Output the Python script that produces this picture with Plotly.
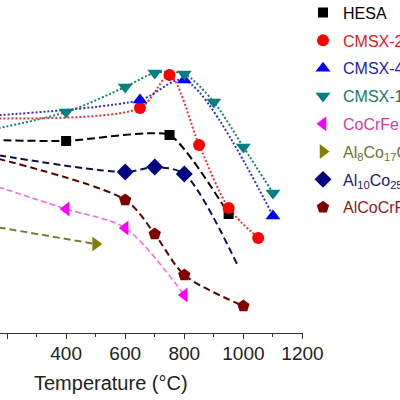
import plotly.graph_objects as go

# Temperature (°C) and strength values (MPa)
HESA_T = [25, 400, 750, 950]
HESA_S = [775, 768, 792, 476]

CMSX2_T = [25, 650, 750, 850, 950, 1050]
CMSX2_S = [860, 900, 1032, 752, 500, 380]

CMSX4_T = [25, 650, 800, 1100]
CMSX4_S = [860, 932, 1012, 468]

CMSX10_T = [25, 400, 600, 700, 800, 900, 1000, 1100]
CMSX10_S = [784, 884, 984, 1040, 1036, 924, 744, 560]

CANTOR_T = [25, 400, 600, 800]
CANTOR_S = [640, 496, 420, 152]

AL8_T = [25, 500]
AL8_S = [452, 356]

AL10_T = [25, 600, 700, 800, 980]
AL10_S = [740, 644, 664, 636, 272]
AL10_MARKED = [True, True, True, True, False]

ALCOCR_T = [25, 600, 700, 800, 1000]
ALCOCR_S = [740, 532, 396, 232, 108]

X_TICKS = [200, 400, 600, 800, 1000, 1200]

series = [
    ("HESA", HESA_T, HESA_S, None, "#000000", "#000000", "square", 10, "8px,4px", 2, 0.5),
    ("CMSX-2", CMSX2_T, CMSX2_S, None, "#ff0000", "#f03030", "circle", 12, "2px,2px", 2, 0.8),
    ("CMSX-4", CMSX4_T, CMSX4_S, None, "#0000ff", "#3030d0", "triangle-up", 13, "2px,2px", 2, 0.8),
    ("CMSX-10", CMSX10_T, CMSX10_S, None, "#008080", "#108070", "triangle-down", 13, "2px,2px", 2, 0.8),
    ("CoCrFeMnNi", CANTOR_T, CANTOR_S, None, "#ff00ff", "#ee70d8", "triangle-left", 13, "6px,3px", 1.6, 0.8),
    ("Al<sub>8</sub>Co<sub>17</sub>Cr<sub>17</sub>Cu<sub>8</sub>Fe<sub>17</sub>Ni<sub>33</sub>",
     AL8_T, AL8_S, None, "#808000", "#7a7a3a", "triangle-right", 13, "7px,4px", 2, 0.8),
    ("Al<sub>10</sub>Co<sub>25</sub>Cr<sub>8</sub>Fe<sub>15</sub>Ni<sub>36</sub>Ti<sub>6</sub>",
     AL10_T, AL10_S, AL10_MARKED, "#000080", "#10104a", "diamond", 13, "7px,4px", 2, 0.8),
    ("AlCoCrFeNiTi<sub>0.5</sub>", ALCOCR_T, ALCOCR_S, None, "#800000", "#5a0000", "pentagon", 13, "7px,4px", 2, 0.8),
]

text_colors = ["#000000", "#e02020", "#2020c0", "#1a7a6a", "#d63aa8", "#6e6e38", "#1a1a70", "#8c1a1a"]

fig = go.Figure()

# lines first
for name, t, s, marked, mcol, lcol, sym, msz, dash, lw, smooth in series:
    fig.add_trace(go.Scatter(
        x=t, y=s, mode="lines", showlegend=False, hoverinfo="skip",
        line=dict(color=lcol, width=lw, dash=dash, shape="spline", smoothing=smooth),
    ))

# markers
for i, (name, t, s, marked, mcol, lcol, sym, msz, dash, lw, smooth) in enumerate(series):
    if marked is None:
        mt, ms = t, s
    else:
        mt = [a for a, m in zip(t, marked) if m]
        ms = [b for b, m in zip(s, marked) if m]
    fig.add_trace(go.Scatter(
        x=mt, y=ms, mode="markers",
        name='<span style="color:%s">%s</span>' % (text_colors[i], name),
        legendgroup="g%d" % i,
        marker=dict(symbol=sym, size=msz, color=mcol, line=dict(width=0)),
    ))

fig.add_annotation(
    text="Temperature (°C)", xref="paper", yref="paper",
    x=111 / 303, y=-50 / 333, xanchor="center", yanchor="middle",
    showarrow=False, font=dict(size=20, color="#222222", family="Arial"),
)

fig.update_layout(
    width=400, height=400,
    margin=dict(l=0, r=97, t=0, b=67, autoexpand=False),
    paper_bgcolor="white", plot_bgcolor="white",
    font=dict(family="Arial", size=16, color="#222222"),
    showlegend=True,
    legend=dict(
        x=1.0, xanchor="left", y=1.013, yanchor="top",
        traceorder="grouped", tracegroupgap=4, maxheight=400,
        bgcolor="rgba(0,0,0,0)", borderwidth=0,
        font=dict(size=16, family="Arial"),
    ),
    xaxis=dict(
        range=[176.3, 1201.7], tickvals=X_TICKS,
        showgrid=False, zeroline=False,
        showline=True, linecolor="#333333", linewidth=1,
        ticks="outside", ticklen=5, tickcolor="#333333",
        ticklabelstandoff=-2,
        minor=dict(ticks="outside", ticklen=3, dtick=100, tick0=0, tickcolor="#333333", showgrid=False),
        tickfont=dict(size=19, color="#222222", family="Arial"),
    ),
    yaxis=dict(range=[0, 1332], visible=False, showgrid=False, zeroline=False),
)

fig.write_html("out.html", config={"displayModeBar": False},
               post_script="document.body.style.margin='0';")
